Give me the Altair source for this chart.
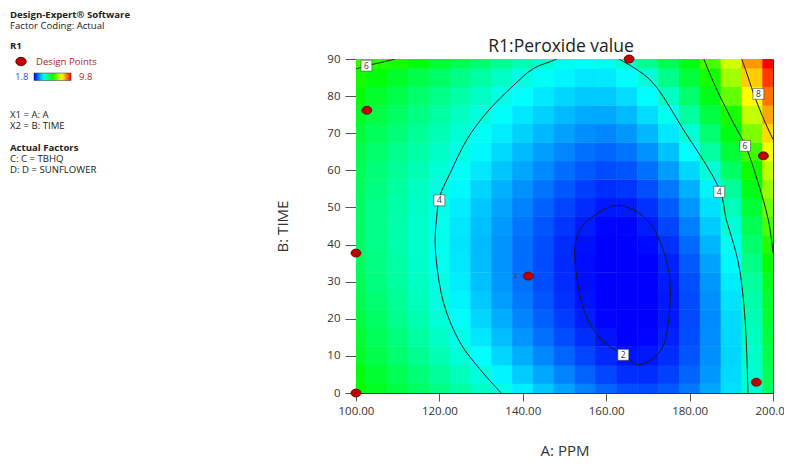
import altair as alt
import pandas as pd

FONT = "Open Sans"

# ---------------- data ----------------
PPM = [100, 105, 110, 115, 120, 125, 130, 135, 140, 145, 150,
       155, 160, 165, 170, 175, 180, 185, 190, 195, 200]
TIME = [0, 5, 10, 15, 20, 25, 30, 35, 40, 45, 50, 55, 60, 65, 70, 75, 80, 85, 90]

# R1 (peroxide value) estimated at each (TIME row, PPM column)
R1 = [
    [5.8, 5.54, 5.28, 5.02, 4.77, 4.51, 4.25, 3.99, 3.67, 3.37, 3.08, 2.82, 2.59, 2.41, 2.37, 2.50, 2.75, 3.10, 3.56, 4.17, 5.0],
    [5.7, 5.42, 5.15, 4.87, 4.60, 4.32, 4.04, 3.72, 3.40, 3.11, 2.83, 2.57, 2.34, 2.16, 2.15, 2.31, 2.59, 2.99, 3.51, 4.18, 5.1],
    [5.5, 5.22, 4.95, 4.67, 4.40, 4.12, 3.81, 3.48, 3.16, 2.86, 2.59, 2.33, 2.11, 1.95, 1.97, 2.15, 2.47, 2.92, 3.49, 4.23, 5.2],
    [5.4, 5.11, 4.83, 4.54, 4.25, 3.96, 3.62, 3.29, 2.97, 2.68, 2.40, 2.16, 1.94, 1.78, 1.84, 2.05, 2.40, 2.89, 3.50, 4.30, 5.3],
    [5.3, 5.01, 4.72, 4.43, 4.14, 3.82, 3.48, 3.16, 2.84, 2.55, 2.27, 2.03, 1.82, 1.67, 1.75, 1.99, 2.37, 2.88, 3.52, 4.37, 5.4],
    [5.2, 4.91, 4.63, 4.34, 4.06, 3.72, 3.38, 3.05, 2.74, 2.45, 2.18, 1.94, 1.73, 1.61, 1.72, 1.98, 2.38, 2.92, 3.58, 4.46, 5.45],
    [5.1, 4.83, 4.55, 4.28, 4.00, 3.65, 3.31, 2.99, 2.69, 2.40, 2.14, 1.90, 1.70, 1.60, 1.73, 2.01, 2.42, 2.98, 3.66, 4.57, 5.6],
    [5.05, 4.78, 4.51, 4.23, 3.95, 3.61, 3.28, 2.96, 2.66, 2.38, 2.12, 1.89, 1.70, 1.63, 1.78, 2.06, 2.49, 3.06, 3.75, 4.75, 5.85],
    [5.0, 4.74, 4.47, 4.21, 3.93, 3.59, 3.27, 2.96, 2.67, 2.40, 2.14, 1.92, 1.74, 1.70, 1.87, 2.17, 2.63, 3.21, 3.92, 4.96, 6.05],
    [5.0, 4.74, 4.48, 4.21, 3.94, 3.62, 3.30, 3.01, 2.72, 2.46, 2.22, 2.01, 1.84, 1.83, 2.01, 2.34, 2.80, 3.39, 4.14, 5.15, 6.35],
    [5.0, 4.74, 4.49, 4.23, 3.97, 3.66, 3.36, 3.08, 2.81, 2.56, 2.33, 2.13, 1.98, 2.00, 2.19, 2.51, 2.98, 3.56, 4.36, 5.37, 6.7],
    [5.05, 4.80, 4.55, 4.29, 4.04, 3.75, 3.47, 3.19, 2.94, 2.70, 2.48, 2.29, 2.15, 2.21, 2.41, 2.73, 3.17, 3.73, 4.59, 5.61, 7.0],
    [5.1, 4.86, 4.62, 4.38, 4.14, 3.89, 3.61, 3.35, 3.10, 2.88, 2.67, 2.50, 2.38, 2.46, 2.69, 3.03, 3.49, 4.11, 5.01, 5.91, 7.3],
    [5.2, 4.96, 4.72, 4.49, 4.25, 4.01, 3.75, 3.50, 3.26, 3.05, 2.85, 2.69, 2.60, 2.71, 2.95, 3.32, 3.81, 4.54, 5.35, 6.28, 7.7],
    [5.35, 5.11, 4.87, 4.62, 4.38, 4.14, 3.89, 3.66, 3.44, 3.24, 3.06, 2.91, 2.86, 2.99, 3.24, 3.62, 4.15, 4.91, 5.67, 6.79, 8.1],
    [5.5, 5.26, 5.02, 4.77, 4.53, 4.29, 4.05, 3.83, 3.62, 3.44, 3.27, 3.14, 3.12, 3.26, 3.53, 3.91, 4.56, 5.27, 5.97, 7.32, 8.5],
    [5.7, 5.46, 5.22, 4.97, 4.73, 4.49, 4.24, 4.00, 3.81, 3.64, 3.49, 3.38, 3.38, 3.53, 3.79, 4.27, 4.95, 5.62, 6.56, 7.82, 8.9],
    [5.95, 5.71, 5.47, 5.23, 4.99, 4.75, 4.51, 4.26, 4.02, 3.86, 3.72, 3.61, 3.64, 3.79, 4.10, 4.72, 5.34, 5.96, 7.06, 8.19, 9.35],
    [6.15, 6.07, 5.97, 5.71, 5.45, 5.19, 4.93, 4.67, 4.41, 4.16, 3.95, 3.85, 3.91, 4.20, 4.69, 5.18, 5.67, 6.35, 7.45, 8.6, 9.8],
]

# contour lines
C4L_PPM = [134.8, 129.8, 125.0, 121.0, 119.0, 119.3, 120.1, 122.6, 126.6, 131.3, 137.7, 142.5, 146.6, 148.2]
C4L_TIME = [0, 6.3, 13.5, 24.3, 39.5, 46.7, 53.0, 59.3, 68.3, 75.5, 82.8, 87.4, 89.3, 90]
C4R_PPM = [163.0, 170.5, 178.5, 187.3, 188.8, 190.6, 192.0, 193.3, 194.0]
C4R_TIME = [90, 84.4, 71.0, 54.5, 46.7, 40.0, 33.2, 19.8, 0]
C6L_PPM = [100.0, 102.5, 105.8, 109.4]
C6L_TIME = [87.3, 88.2, 89.0, 90]
C6R_PPM = [183.4, 186.5, 190.5, 193.4, 196.2, 199.0, 200.0]
C6R_TIME = [90, 81.8, 72.8, 66.6, 57.5, 46.0, 37.7]
C8_PPM = [192.5, 193.7, 195.3, 197.5, 200.0]
C8_TIME = [90, 86.2, 80.8, 74.5, 68.3]
C2_PPM = [161.3, 166.5, 171.3, 174.5, 175.4, 174.7, 172.9, 168.1, 164.1, 158.5, 154.5, 152.5, 153.0, 155.3]
C2_TIME = [50.3, 49.4, 44.5, 35.5, 27.0, 17.5, 11.2, 7.6, 10.3, 14.8, 22.9, 35.5, 41.8, 46.2]

# contour labels
LBL_PPM = [102.5, 120.0, 187.1, 193.3, 196.5, 164.1]
LBL_TIME = [88.2, 51.9, 54.2, 66.6, 80.6, 10.3]
LBL_TEXT = ["6", "4", "4", "6", "8", "2"]

# design points
DP_PPM = [100.0, 100.0, 102.6, 165.5, 141.3, 197.7, 196.0]
DP_TIME = [0.0, 37.7, 76.2, 90.0, 31.5, 63.9, 2.9]
DP_REP = [1, 1, 1, 1, 2, 1, 1]

# ---------------- tables ----------------
grid = pd.DataFrame([
    {"ppm": p, "time": t, "r1": R1[i][j]}
    for i, t in enumerate(TIME) for j, p in enumerate(PPM)
])

lines = []
for cid, (xs, ys) in {"c4l": (C4L_PPM, C4L_TIME), "c4r": (C4R_PPM, C4R_TIME),
                      "c6l": (C6L_PPM, C6L_TIME), "c6r": (C6R_PPM, C6R_TIME),
                      "c8": (C8_PPM, C8_TIME)}.items():
    for k, (x, y) in enumerate(zip(xs, ys)):
        lines.append({"cid": cid, "k": k, "ppm": x, "time": y})
lines = pd.DataFrame(lines)
ell = pd.DataFrame({"k": range(len(C2_PPM)), "ppm": C2_PPM, "time": C2_TIME})
lbl = pd.DataFrame({"ppm": LBL_PPM, "time": LBL_TIME, "txt": LBL_TEXT})
dp = pd.DataFrame({"ppm": DP_PPM, "time": DP_TIME, "rep": DP_REP})
dummy = pd.DataFrame({"a": [0]})

# ---------------- scales / axes ----------------
XS = alt.Scale(domain=[100, 200], nice=False, zero=False)
YS = alt.Scale(domain=[0, 90], nice=False, zero=False)
AX = alt.Axis(values=[100, 120, 140, 160, 180, 200], format=".2f", title="A: PPM",
              grid=False, tickSize=8, tickColor="#555", domainColor="#333",
              labelFont=FONT, labelFontSize=11.5, labelColor="#333", labelPadding=4,
              labelFlush=False, titleFont=FONT, titleFontSize=15,
              titleFontWeight="normal", titleColor="#333", titlePadding=27)
AY = alt.Axis(values=list(range(0, 91, 10)), format="d", title="B: TIME",
              grid=False, tickSize=11, tickColor="#555", domainColor="#333",
              labelFont=FONT, labelFontSize=11.5, labelColor="#333", labelPadding=5,
              titleFont=FONT, titleFontSize=15, titleFontWeight="normal",
              titleColor="#333", titlePadding=36)
CS = alt.Scale(domain=[1.8, 3.8, 5.8, 7.8, 9.8],
               range=["#0000ff", "#00ffff", "#00ff00", "#ffff00", "#ff0000"],
               clamp=True, interpolate="rgb")


def X(f):
    return alt.X(f, type="quantitative", scale=XS, axis=AX)


def Y(f):
    return alt.Y(f, type="quantitative", scale=YS, axis=AY)


heat = alt.Chart(grid).transform_calculate(
    x1="max(100, datum.ppm - 2.56)", x2="min(200, datum.ppm + 2.56)",
    y1="max(0, datum.time - 2.56)", y2="min(90, datum.time + 2.56)",
).mark_rect(strokeWidth=0).encode(
    x=X("x1"), x2="x2:Q", y=Y("y1"), y2="y2:Q",
    color=alt.Color("r1:Q", scale=CS,
                    legend=alt.Legend(type="gradient", orient="none",
                                      legendX=-322, legendY=14,
                                      direction="horizontal", gradientLength=37,
                                      gradientThickness=7.5, title=None,
                                      labelOpacity=0, labelFontSize=1,
                                      gradientStrokeColor="#333",
                                      gradientStrokeWidth=0.5, padding=0)),
)

contours = alt.Chart(lines).mark_line(
    interpolate="catmull-rom", color="#1a1a1a", strokeWidth=1, clip=True
).encode(x=X("ppm"), y=Y("time"), detail="cid:N", order="k:Q")

ellipse = alt.Chart(ell).mark_line(
    interpolate="cardinal-closed", color="#1a1a1a", strokeWidth=1
).encode(x=X("ppm"), y=Y("time"), order="k:Q")

boxes = alt.Chart(lbl).mark_square(
    size=120, filled=True, fill="white", stroke="#444", strokeWidth=0.6, opacity=1
).encode(x=X("ppm"), y=Y("time"))
box_txt = alt.Chart(lbl).mark_text(
    font=FONT, fontSize=8.5, color="#333", baseline="middle", align="center"
).encode(x=X("ppm"), y=Y("time"), text="txt:N")

ELL_SHAPE = "M-1,0A1,0.8,0,1,0,1,0A1,0.8,0,1,0,-1,0Z"
points = alt.Chart(dp).mark_point(
    shape=ELL_SHAPE, size=100, filled=True, fill="#c00000", stroke="#5a0000",
    strokeWidth=0.8, opacity=1
).encode(x=X("ppm"), y=Y("time"))
reps = alt.Chart(dp).transform_filter("datum.rep > 1").mark_text(
    font=FONT, fontSize=8, color="#444", dx=-13, baseline="middle"
).encode(x=X("ppm"), y=Y("time"), text="rep:N")


def note(text, x, y, bold=False, color="#222", size=9.6, align="left"):
    return alt.Chart(dummy).mark_text(
        text=text, align=align, baseline="middle", font=FONT, fontSize=size,
        fontWeight="bold" if bold else "normal", color=color
    ).encode(x=alt.value(x), y=alt.value(y))


legend_pt = alt.Chart(dummy).mark_point(
    shape=ELL_SHAPE, size=110, filled=True, fill="#c00000", stroke="#5a0000",
    strokeWidth=0.8, opacity=1
).encode(x=alt.value(-335), y=alt.value(2.5))

notes = [
    note("R1:Peroxide value", 205, -12, color="#222", size=17.5, align="center"),
    note("Design-Expert® Software", -346, -44, bold=True),
    note("Factor Coding: Actual", -346, -33),
    note("R1", -346, -13, bold=True),
    note("Design Points", -320, 2.5, color="#b22222"),
    note("1.8", -341, 18, color="#3a4fd0"),
    note("9.8", -277, 18, color="#d02020"),
    note("X1 = A: A", -346, 56),
    note("X2 = B: TIME", -346, 67),
    note("Actual Factors", -346, 89, bold=True),
    note("C: C = TBHQ", -346, 100),
    note("D: D = SUNFLOWER", -346, 111),
]

chart = alt.layer(
    heat, contours, ellipse, boxes, box_txt, points, reps, legend_pt, *notes
).properties(
    width=417, height=334,
    padding={"left": 348, "top": 51, "right": 11, "bottom": 67},
    autosize=alt.AutoSizeParams(type="none"),
).configure_view(stroke="#333", strokeWidth=1)

chart.save("out.html", embed_options={"renderer": "svg", "actions": False})
